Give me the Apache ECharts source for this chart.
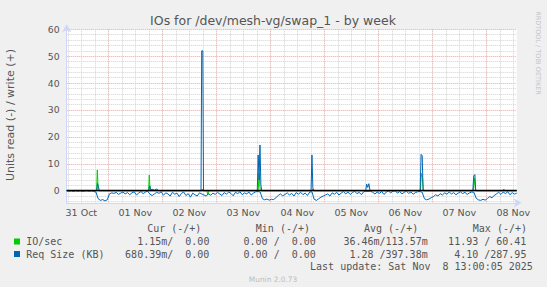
<!DOCTYPE html>
<html><head><meta charset="utf-8">
<script src="https://cdn.jsdelivr.net/npm/echarts@6/dist/echarts.min.js"></script>
<style>html,body{margin:0;padding:0;background:#f0f0f0}#c{width:547px;height:287px}</style>
</head><body><div id="c"></div>
<script>
// ---- text ----
const chartTitle = 'IOs for /dev/mesh-vg/swap_1 - by week';
const yAxisTitle = 'Units read (-) / write (+)';
const dayLabels = ['31 Oct','01 Nov','02 Nov','03 Nov','04 Nov','05 Nov','06 Nov','07 Nov','08 Nov'];
const legendNames = ['IO/sec', 'Req Size (KB)'];
const legendHeaders = ['Cur (-/+)', 'Min (-/+)', 'Avg (-/+)', 'Max (-/+)'];
const ioStats = ['1.15m/  0.00', '0.00 /  0.00', '36.46m/113.57m', '11.93 / 60.41'];
const reqStats = ['680.39m/  0.00', '0.00 /  0.00', '1.28 /397.38m', '4.10 /287.95'];
const lastUpdate = 'Last update: Sat Nov  8 13:00:05 2025';
const versionText = 'Munin 2.0.73';
const sideText = 'RRDTOOL / TOBI OETIKER';

// ---- data (x = hours since 31 Oct 00:00) ----
const hourStart = 5.5, hourStep = 1;
// Req Size (KB), read side (plotted negative), one value per hour
const reqReadValues = [
 0,-0.2,0,-0.3,0,-0.2,0,-0.3,-0.1,0,-0.2,0,-0.3,-0.5,
 -3.0,-3.6,-3.3,-3.8,-3.4,-1.2,-0.8,-1.0,-0.6,-1.4,-0.9,-0.5,-1.2,-0.7,-1.5,-0.8,
 -0.4,-1.6,-0.9,-0.3,-1.1,-0.5,-0.2,-1.3,-1.8,-1.2,-0.6,-1.0,-0.4,-1.7,-0.8,-1.2,
 -2.0,-0.6,-1.3,-0.9,-2.2,-1.0,-0.5,-1.8,-1.1,-2.4,-0.9,-1.5,-2.0,-0.8,-1.2,-1.6,
 -2.0,-1.1,-1.7,-0.9,-1.4,-0.6,-1.2,-1.8,-0.7,-1.3,-0.5,-1.0,-1.9,-0.6,-1.1,-0.4,
 -1.5,-0.8,-1.2,-0.5,-1.6,-0.9,-0.4,-0.3,-0.5,-3.0,-3.4,-3.1,-3.5,-3.2,-3.3,-2.6,
 -1.8,-1.2,-1.9,-1.4,-0.8,-1.6,-1.0,-2.0,-0.7,-1.3,-0.6,-1.5,-0.9,-1.8,-0.5,-0.4,
 -3.2,-3.6,-3.0,-2.4,-2.0,-1.6,-1.2,-2.0,-0.8,-1.3,-0.6,-1.6,-0.9,-0.3,-1.2,-0.5,
 -1.4,-0.7,-0.2,-1.1,-0.6,-1.5,-0.4,-0.2,-0.3,-0.2,-0.6,-1.2,-0.5,-1.0,-0.3,-1.4,
 -0.6,-0.1,-0.8,-0.2,0,-0.9,-0.3,-1.2,-0.6,-0.2,-1.0,-0.5,-1.3,-0.7,-0.4,-0.3,
 -0.6,-3.0,-3.4,-3.1,-2.6,-2.2,-1.5,-2.0,-1.1,-1.6,-0.8,-1.3,-0.5,-1.2,-0.7,-1.5,
 -0.9,-0.4,-1.1,-0.6,-1.4,-0.8,-0.5,-0.6,-2.8,-3.4,-3.6,-3.2,-3.5,-2.9,-2.2,-2.6,
 -1.8,-1.2,-0.6,-1.4,-0.5,-1.1,-0.4,-1.5,-0.7,-1.3,-0.9
];
// Req Size (KB), write side
const reqWriteHours  = [5.5,18.8,19.2,19.6,20.0,41.9,42.4,42.9,43.5,44.5,45.5,46.5,65.2,65.5,66.0,66.3,90.2,90.6,91.0,91.4,91.8,92.2,114.1,114.5,114.9,115.3,138.4,138.8,139.3,139.8,140.3,162.6,163.0,163.5,163.9,186.0,186.4,186.9,187.3,205.5];
const reqWriteValues = [0,0,2.7,1.5,0,0,1.8,0.3,0.5,0.2,0.6,0,0,52,52,0,0,13.3,4,17,2,0,0,13.3,1,0,0,2.5,1.2,2.6,0,0,13.5,13,0,0,5.5,6.0,0,0];
// IO/sec, write side
const ioWriteHours  = [5.5,18.8,19.1,19.5,41.9,42.2,42.6,65.4,65.8,66.2,90.6,91.0,91.5,114.5,114.8,115.1,162.7,163.1,163.6,164.0,186.2,186.7,187.2,199.5,199.8,200.1,205.5];
const ioWriteValues = [0,0,7.7,0,0,5.8,0,0,0.6,0,0,6.5,0,0,0.6,0,0,6.4,5,0,0,4.6,0,0,0.6,0,0];
// IO/sec, read side (plotted negative)
const ioReadHours  = [5.5,67.8,68.2,68.6,205.5];
const ioReadValues = [0,0,-1.6,0,0];

// ---- styles ----
const GREEN = '#00cc00', BLUE = '#0066b3';
const GRID_MINOR = '#d2d2d2', GRID_MAJOR = '#f0a0a0', NONE = 'rgba(0,0,0,0)';
const AXIS_COLOR = '#cfd6f8', FONT_COLOR = '#555';

const zip = (hs, vs) => hs.map((h, i) => [h, vs[i]]);
const reqReadData = reqReadValues.map((v, i) => [hourStart + i * hourStep, v]);

// split-line colour cycles (ticks every 0.5 unit starting at axis min)
const xColors = new Array(48).fill(NONE);
xColors[1] = GRID_MINOR; xColors[13] = GRID_MINOR; xColors[25] = GRID_MINOR; xColors[37] = GRID_MAJOR;
const yColors = new Array(20).fill(NONE);
yColors[1] = GRID_MINOR; yColors[5] = GRID_MINOR; yColors[9] = GRID_MAJOR; yColors[13] = GRID_MINOR; yColors[17] = GRID_MINOR;

const mono = '10px "DejaVu Sans Mono"';
const CW = 6.02;
function monoText(str, x, y, align) {
  return { type: 'text', x: x, y: y, silent: true,
    style: { text: str, font: mono, fill: FONT_COLOR, textAlign: align || 'left', textVerticalAlign: 'middle' } };
}
const headerX = [147.2, 255.8, 364, 472.8];
const valueRight = [209.4, 315.8, 427.7, 526.4];
const graphics = [
  { type: 'text', x: 273, y: 20, silent: true, style: { text: chartTitle, font: '12.5px "DejaVu Sans"', fill: FONT_COLOR, textAlign: 'center', textVerticalAlign: 'middle' } },
  { type: 'text', x: 10, y: 115, rotation: Math.PI / 2, silent: true, style: { text: yAxisTitle, font: '11px "DejaVu Sans"', fill: FONT_COLOR, textAlign: 'center', textVerticalAlign: 'middle' } },
  { type: 'text', x: 537.5, y: 53, rotation: -Math.PI / 2, silent: true, style: { text: sideText, font: '6.5px "DejaVu Sans"', fill: '#c4c4c4', textAlign: 'center', textVerticalAlign: 'middle' } },
  { type: 'text', x: 273, y: 279.6, silent: true, style: { text: versionText, font: '7.4px "DejaVu Sans"', fill: '#bdbdbd', textAlign: 'center', textVerticalAlign: 'middle' } },
  { type: 'rect', shape: { x: 14, y: 238.5, width: 6, height: 6 }, style: { fill: GREEN } },
  { type: 'rect', shape: { x: 14, y: 251, width: 6, height: 6 }, style: { fill: BLUE } },
  monoText(legendNames[0], 26.2, 241.5),
  monoText(legendNames[1], 26.2, 254),
  monoText(lastUpdate, 532.8, 266.3, 'right')
];
legendHeaders.forEach((t, i) => graphics.push(monoText(t, headerX[i], 228.6)));
ioStats.forEach((t, i) => graphics.push(monoText(t, valueRight[i], 241.5, 'right')));
reqStats.forEach((t, i) => graphics.push(monoText(t, valueRight[i], 254, 'right')));

const chart = echarts.init(document.getElementById('c'), null, { renderer: 'svg' });
chart.setOption({
  animation: false,
  backgroundColor: '#f0f0f0',
  grid: { left: 66.7, top: 29.3, width: 450, height: 173.5, show: true, backgroundColor: '#ffffff', borderWidth: 0 },
  xAxis: {
    type: 'value', min: 5.5, max: 205.5, interval: 0.5,
    axisLine: { onZero: false, lineStyle: { color: AXIS_COLOR, width: 1 }, symbol: ['none', 'arrow'], symbolSize: [7, 8], symbolOffset: [0, 5] },
    axisTick: { show: false },
    splitLine: { show: true, lineStyle: { color: xColors, type: 'dotted', width: 1 } },
    axisLabel: { color: FONT_COLOR, fontFamily: 'DejaVu Sans', fontSize: 9.5, margin: 5,
      formatter: v => { const d = (v - 12) / 24; const r = Math.round(d); return Math.abs(d - r) < 1e-6 && dayLabels[r] ? dayLabels[r] : ''; } }
  },
  yAxis: {
    type: 'value', min: -4.5, max: 60, interval: 0.5,
    axisLine: { show: true, lineStyle: { color: AXIS_COLOR, width: 1 }, symbol: ['none', 'arrow'], symbolSize: [7, 8], symbolOffset: [0, 5] },
    axisTick: { show: false },
    splitLine: { show: true, lineStyle: { color: yColors, type: 'dotted', width: 1 } },
    axisLabel: { color: FONT_COLOR, fontFamily: 'DejaVu Sans', fontSize: 9.3, margin: 7,
      formatter: v => { const r = Math.round(v / 10); return Math.abs(v / 10 - r) < 1e-6 ? String(r * 10) : ''; } }
  },
  series: [
    { type: 'line', name: 'IO/sec write', data: zip(ioWriteHours, ioWriteValues), symbol: 'none', color: GREEN, lineStyle: { width: 1, color: GREEN }, z: 2 },
    { type: 'line', name: 'IO/sec read', data: zip(ioReadHours, ioReadValues), symbol: 'none', color: GREEN, lineStyle: { width: 1, color: GREEN }, z: 2 },
    { type: 'line', name: 'Req Size read', data: reqReadData, symbol: 'none', color: BLUE, lineStyle: { width: 1, color: BLUE }, z: 3 },
    { type: 'line', name: 'Req Size write', data: zip(reqWriteHours, reqWriteValues), symbol: 'none', color: BLUE, lineStyle: { width: 1, color: BLUE }, z: 3 },
    { type: 'line', name: 'zero', data: [], z: 5, symbol: 'none',
      markLine: { silent: true, symbol: 'none', label: { show: false }, lineStyle: { color: '#000', width: 1.3, type: 'solid' }, data: [{ yAxis: 0 }] } }
  ],
  graphic: graphics
});
</script>
</body></html>
